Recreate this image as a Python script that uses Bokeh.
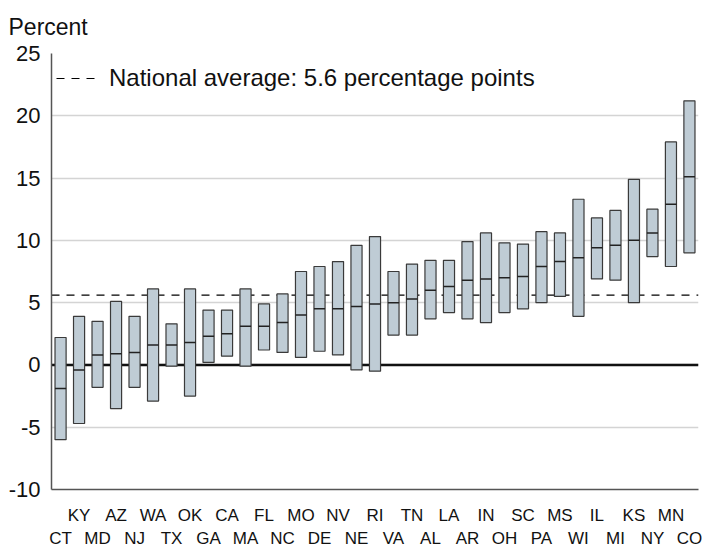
from bokeh.plotting import figure
from bokeh.models import (ColumnDataSource, Range1d, FixedTicker, LinearAxis, Span,
                          Legend, LegendItem, Title)
from bokeh.transform import dodge
from bokeh.embed import file_html
from bokeh.resources import INLINE

states = ["CT", "KY", "MD", "AZ", "NJ", "WA", "TX", "OK", "GA", "CA", "MA", "FL",
          "NC", "MO", "DE", "NV", "NE", "RI", "VA", "TN", "AL", "LA", "AR", "IN",
          "OH", "SC", "PA", "MS", "WI", "IL", "MI", "KS", "NY", "MN", "CO"]
high = [2.2, 3.9, 3.5, 5.1, 3.9, 6.1, 3.3, 6.1, 4.4, 4.4, 6.1, 4.9, 5.7, 7.5, 7.9,
        8.3, 9.6, 10.3, 7.5, 8.1, 8.4, 8.4, 9.9, 10.6, 9.8, 9.7, 10.7, 10.6, 13.3,
        11.8, 12.4, 14.9, 12.5, 17.9, 21.2]
median = [-1.9, -0.4, 0.8, 0.9, 1.0, 1.6, 1.6, 1.8, 2.3, 2.5, 3.1, 3.1, 3.4, 4.0,
          4.5, 4.5, 4.7, 4.9, 5.0, 5.3, 6.0, 6.3, 6.8, 6.9, 7.0, 7.1, 7.9, 8.3, 8.6,
          9.4, 9.6, 10.0, 10.6, 12.9, 15.1]
low = [-6.0, -4.7, -1.8, -3.5, -1.8, -2.9, -0.1, -2.5, 0.2, 0.7, -0.1, 1.2, 1.0, 0.6,
       1.1, 0.8, -0.4, -0.5, 2.4, 2.4, 3.7, 4.2, 3.7, 3.4, 4.2, 4.5, 5.0, 5.5, 3.9,
       6.9, 6.8, 5.0, 8.7, 7.9, 9.0]
national_avg = 5.6
y_ticks = [-10, -5, 0, 5, 10, 15, 20, 25]

FONT = "Liberation Sans"
idx = list(range(len(states)))
src = ColumnDataSource(dict(x=idx, low=low, high=high, median=median, state=states))

p = figure(width=708, height=550, output_backend="svg", toolbar_location=None,
           x_range=Range1d(-0.49, len(states) - 0.51), y_range=Range1d(-10, 25),
           x_axis_type=None, min_border_left=51, min_border_right=10,
           min_border_top=53, min_border_bottom=0)
p.outline_line_color = None
p.background_fill_color = "white"

p.add_layout(Title(text="Percent", align="left", offset=-43, text_font=FONT,
                   text_font_size="23px", text_font_style="normal",
                   text_color="#111111", standoff=24, vertical_align="top"), "above")

# y axis
yax = p.yaxis[0]
yax.ticker = FixedTicker(ticks=y_ticks)
yax.major_label_overrides = {t: str(t) for t in y_ticks}
yax.major_tick_line_color = None
yax.major_tick_out = 0
yax.major_tick_in = 0
yax.minor_tick_line_color = None
yax.axis_line_color = "#555555"
yax.axis_line_width = 1.5
yax.major_label_text_font = FONT
yax.major_label_text_font_size = "22px"
yax.major_label_text_color = "#111111"
yax.major_label_standoff = 11

p.ygrid.ticker = FixedTicker(ticks=y_ticks)
p.ygrid.grid_line_color = "#d4d4d4"
p.ygrid.grid_line_width = 1.5
p.xgrid.grid_line_color = None

# x axes (two label rows)
top_row = {i: s for i, s in enumerate(states) if i % 2 == 1}
bottom_row = {i: s for i, s in enumerate(states) if i % 2 == 0}
ax1 = LinearAxis(ticker=FixedTicker(ticks=list(top_row.keys())),
                 major_label_overrides=top_row)
ax2 = LinearAxis(ticker=FixedTicker(ticks=list(bottom_row.keys())),
                 major_label_overrides=bottom_row)
for ax in (ax1, ax2):
    ax.major_tick_line_color = None
    ax.major_tick_out = 0
    ax.major_tick_in = 0
    ax.minor_tick_line_color = None
    ax.major_label_text_font = FONT
    ax.major_label_text_font_size = "17px"
    ax.major_label_text_color = "#111111"
ax1.axis_line_color = "#555555"
ax1.axis_line_width = 1.5
ax1.major_label_standoff = 16
ax2.axis_line_color = None
ax2.major_label_standoff = 1
p.add_layout(ax1, "below")
p.add_layout(ax2, "below")

# reference lines
avg_span = Span(location=national_avg, dimension="width", line_color="black",
                line_dash="8 7", line_width=1.2, level="underlay")
zero_span = Span(location=0, dimension="width", line_color="#111111",
                 line_width=2.5, level="underlay")
p.add_layout(avg_span)
p.add_layout(zero_span)

# bars
p.vbar(x="x", bottom="low", top="high", width=0.6, source=src,
       fill_color="#bfccd5", line_color="#3a3a3a", line_width=1.2)
p.segment(x0=dodge("x", -0.3, range=p.x_range), x1=dodge("x", 0.3, range=p.x_range),
          y0="median", y1="median", source=src, line_color="#222222", line_width=1.5)

# legend (glyph only; the plotted line is the Span above)
dummy = p.line(x=[float("nan")], y=[float("nan")], line_color="black",
               line_dash="8 7", line_width=1.2)
legend = Legend(items=[LegendItem(label="National average: 5.6 percentage points",
                                  renderers=[dummy])],
                location=(5, 397), margin=0, padding=6, border_line_color=None,
                background_fill_alpha=0, label_text_font=FONT,
                label_text_font_size="24px", label_text_color="#111111",
                glyph_width=40, label_standoff=13)
p.add_layout(legend)

open("out.html", "w").write(file_html(p, INLINE))
